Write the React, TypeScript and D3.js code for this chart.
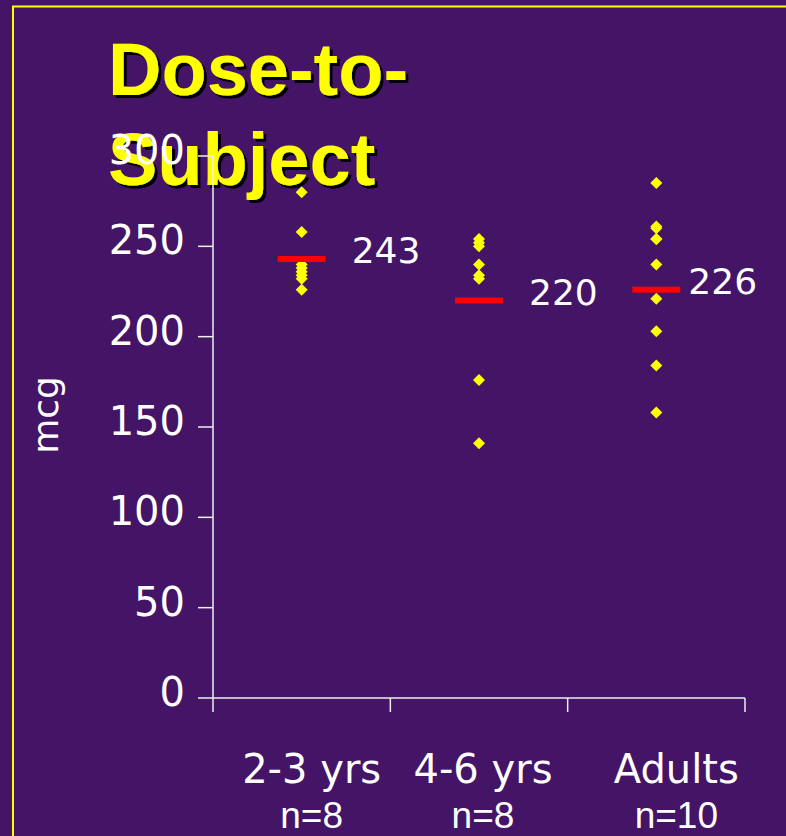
import React from "react";
import * as d3 from "d3";

const categories = ["2-3 yrs", "4-6 yrs", "Adults"];
const sampleSizes = ["n=8", "n=8", "n=10"];
const means = [243, 220, 226];
const dose23 = [280, 258, 240, 238, 236, 234, 232, 226];
const dose46 = [254, 252, 250, 240, 234, 232, 176, 141];
const doseAdults = [285, 261, 260, 254, 254, 240, 221, 203, 184, 158];
const yTicks = [0, 50, 100, 150, 200, 250, 300];
const groups = [dose23, dose46, doseAdults];
const titleLines = ["Dose-to-", "Subject"];

const W = 786;
const H = 836;
const BG = "#441466";
const YELLOW = "#ffff00";
const AXIS = "#eeeeee";
const TICKFONT = "'Comic Sans MS', 'DejaVu Sans', sans-serif";

// label layout (placement tweaks only)
const meanLabelDx = [50, 50, 32];
const catLabelDx = [10, 4, 20];

export default function App() {
  const x = d3.scaleBand<string>().domain(categories).range([213, 745]).padding(0);
  const y = d3.scaleLinear().domain([0, 300]).range([698, 156]);
  const diamond = d3.symbol().type(d3.symbolSquare).size(72)();
  const bw = x.bandwidth();
  const boundaries = [0, 1, 2, 3].map((i) => 213 + i * bw);

  return (
    <svg
      width={W}
      height={H}
      style={{ position: "absolute", left: 0, top: 0, display: "block" }}
    >
      <defs>
        <filter id="titleShadow" x="-10%" y="-20%" width="130%" height="150%">
          <feDropShadow dx={3} dy={3} stdDeviation={0.4} floodColor="#000" floodOpacity={1} />
        </filter>
      </defs>
      <rect x={0} y={0} width={W} height={H} fill={BG} />
      <rect x={13} y={6.5} width={W + 20} height={H + 20} fill="none" stroke={YELLOW} strokeWidth={2} />

      {/* title */}
      <g
        fontFamily="'Liberation Sans', Arial, sans-serif"
        fontWeight="bold"
        fontSize={74}
        filter="url(#titleShadow)"
      >
        {titleLines.map((t, i) => (
          <text key={t} x={108} y={95 + i * 90} fill={YELLOW}>
            {t}
          </text>
        ))}
      </g>

      {/* y axis */}
      <line x1={213} x2={213} y1={y(300)} y2={y(0)} stroke={AXIS} strokeWidth={1.5} />
      {yTicks.map((t) => (
        <g key={t}>
          <line x1={198} x2={213} y1={y(t)} y2={y(t)} stroke={AXIS} strokeWidth={1.5} />
          <text
            x={185}
            y={y(t) + 8}
            textAnchor="end"
            fill="#fff"
            fontSize={40}
            fontFamily={TICKFONT}
          >
            {t}
          </text>
        </g>
      ))}
      <text
        transform={`translate(58,415) rotate(-90)`}
        textAnchor="middle"
        fill="#fff"
        fontSize={36}
        fontFamily={TICKFONT}
      >
        mcg
      </text>

      {/* x axis */}
      <line x1={213} x2={745} y1={y(0)} y2={y(0)} stroke={AXIS} strokeWidth={1.5} />
      {boundaries.map((b, i) => (
        <line key={i} x1={b} x2={b} y1={y(0)} y2={y(0) + 14} stroke={AXIS} strokeWidth={1.5} />
      ))}
      {categories.map((c, i) => {
        const cx = (x(c) as number) + bw / 2 + catLabelDx[i];
        return (
          <g key={c}>
            <text x={cx} y={783} textAnchor="middle" fill="#fff" fontSize={40} fontFamily={TICKFONT}>
              {c}
            </text>
            <text
              x={cx}
              y={828}
              textAnchor="middle"
              fill="#fff"
              fontSize={37}
              fontFamily="'Liberation Sans Narrow', 'Liberation Sans', Arial, sans-serif"
            >
              {sampleSizes[i]}
            </text>
          </g>
        );
      })}

      {/* points */}
      {groups.map((vals, gi) => {
        const cx = (x(categories[gi]) as number) + bw / 2;
        return (
          <g key={gi}>
            {vals.map((v, j) => (
              <path
                key={j}
                d={diamond as string}
                transform={`translate(${cx},${y(v)}) rotate(45)`}
                fill={YELLOW}
              />
            ))}
          </g>
        );
      })}

      {/* means */}
      {means.map((m, i) => {
        const cx = (x(categories[i]) as number) + bw / 2;
        return (
          <g key={i}>
            <rect x={cx - 24} y={y(m) - 3} width={48} height={6} fill="#ff0000" />
            <text
              x={cx + meanLabelDx[i]}
              y={y(m) + 4}
              fill="#fff"
              fontSize={36}
              fontFamily={TICKFONT}
            >
              {m}
            </text>
          </g>
        );
      })}
    </svg>
  );
}
